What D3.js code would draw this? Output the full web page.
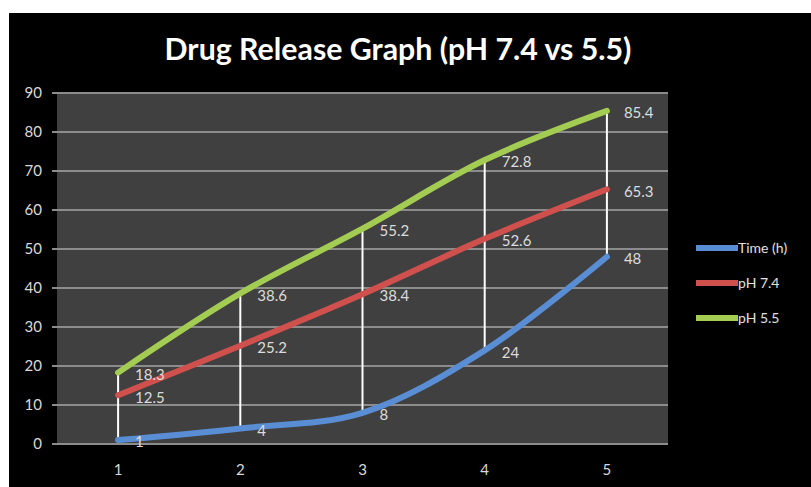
<!DOCTYPE html>
<html>
<head>
<meta charset="utf-8">
<script src="https://cdn.jsdelivr.net/npm/d3@7"></script>
<style>
  html, body { margin: 0; padding: 0; background: #fff; }
  svg { display: block; }
</style>
</head>
<body>
<svg id="chart" width="811" height="487"></svg>
<script>
const categories = ["1", "2", "3", "4", "5"];
const timeValues = [1, 4, 8, 24, 48];
const ph74Values = [12.5, 25.2, 38.4, 52.6, 65.3];
const ph55Values = [18.3, 38.6, 55.2, 72.8, 85.4];
const seriesNames = ["Time (h)", "pH 7.4", "pH 5.5"];
const seriesColors = ["#5a8ed4", "#d0504e", "#a3cc52"];
const yTicks = [0, 10, 20, 30, 40, 50, 60, 70, 80, 90];
const titleText = "Drug Release Graph (pH 7.4 vs 5.5)";

const series = [timeValues, ph74Values, ph55Values].map((vals, i) => ({
  name: seriesNames[i], color: seriesColors[i],
  points: vals.map((v, j) => ({ cat: categories[j], v }))
}));

const svg = d3.select("#chart");
const font = "Lato, 'Open Sans', sans-serif";

svg.append("rect").attr("x", 0).attr("y", 0).attr("width", 811).attr("height", 487).attr("fill", "#fff");
svg.append("rect").attr("x", 9).attr("y", 13).attr("width", 802).attr("height", 474).attr("fill", "#000");

const plot = { left: 57, right: 668, top: 93, bottom: 444 };

const x = d3.scaleBand().domain(categories).range([plot.left, plot.right]).paddingInner(0).paddingOuter(0);
const xc = c => x(c) + x.bandwidth() / 2;
const y = d3.scaleLinear().domain([0, 90]).range([plot.bottom, plot.top]);

// plot area
svg.append("rect")
  .attr("x", plot.left).attr("y", plot.top)
  .attr("width", plot.right - plot.left).attr("height", plot.bottom - plot.top)
  .attr("fill", "#404040");

// gridlines
svg.append("g").selectAll("line").data(yTicks).join("line")
  .attr("x1", plot.left - 5).attr("x2", plot.right)
  .attr("y1", d => y(d)).attr("y2", d => y(d))
  .attr("stroke", "#8c8c8c").attr("stroke-width", 2);

// y axis labels
svg.append("g").selectAll("text").data(yTicks).join("text")
  .attr("x", 42).attr("y", d => y(d)).attr("dy", "0.35em")
  .attr("text-anchor", "end")
  .attr("fill", "#d9d9d9").attr("font-family", font).attr("font-size", 15)
  .text(d => d);

// x axis labels
svg.append("g").selectAll("text").data(categories).join("text")
  .attr("x", d => xc(d)).attr("y", 470).attr("dy", "0.35em")
  .attr("text-anchor", "middle")
  .attr("fill", "#d9d9d9").attr("font-family", font).attr("font-size", 15)
  .text(d => d);

// drop lines (high-low)
svg.append("g").selectAll("line").data(categories).join("line")
  .attr("x1", d => xc(d)).attr("x2", d => xc(d))
  .attr("y1", (d, i) => y(d3.max(series, s => s.points[i].v)))
  .attr("y2", (d, i) => y(d3.min(series, s => s.points[i].v)))
  .attr("stroke", "#ffffff").attr("stroke-width", 2);

// lines
const line = d3.line().x(d => xc(d.cat)).y(d => y(d.v)).curve(d3.curveCatmullRom.alpha(0.5));
svg.append("g").selectAll("path").data(series).join("path")
  .attr("d", s => line(s.points))
  .attr("fill", "none").attr("stroke", s => s.color)
  .attr("stroke-width", 6).attr("stroke-linecap", "round").attr("stroke-linejoin", "round");

// data labels
series.forEach(s => {
  svg.append("g").selectAll("text").data(s.points).join("text")
    .attr("x", d => xc(d.cat) + 17).attr("y", d => y(d.v) + 2).attr("dy", "0.35em")
    .attr("fill", "#dcdcdc").attr("font-family", font).attr("font-size", 15)
    .text(d => d.v);
});

// legend
const lg = svg.append("g").selectAll("g").data(series).join("g")
  .attr("transform", (d, i) => `translate(696, ${248 + i * 35})`);
lg.append("line").attr("x1", 0).attr("x2", 42).attr("y1", 0).attr("y2", 0)
  .attr("stroke", d => d.color).attr("stroke-width", 6);
lg.append("text").attr("x", 42).attr("y", 0).attr("dy", "0.35em")
  .attr("fill", "#e0e0e0").attr("font-family", font).attr("font-size", 14)
  .text(d => d.name);

// title
const t = svg.append("text")
  .attr("x", 398).attr("y", 60).attr("text-anchor", "middle")
  .attr("fill", "#ffffff").attr("font-family", font).attr("font-weight", "bold").attr("font-size", 29)
  .text(titleText);
const w = t.node().getComputedTextLength();
if (w > 0) t.attr("font-size", 29 * 467 / w);
</script>
</body>
</html>
